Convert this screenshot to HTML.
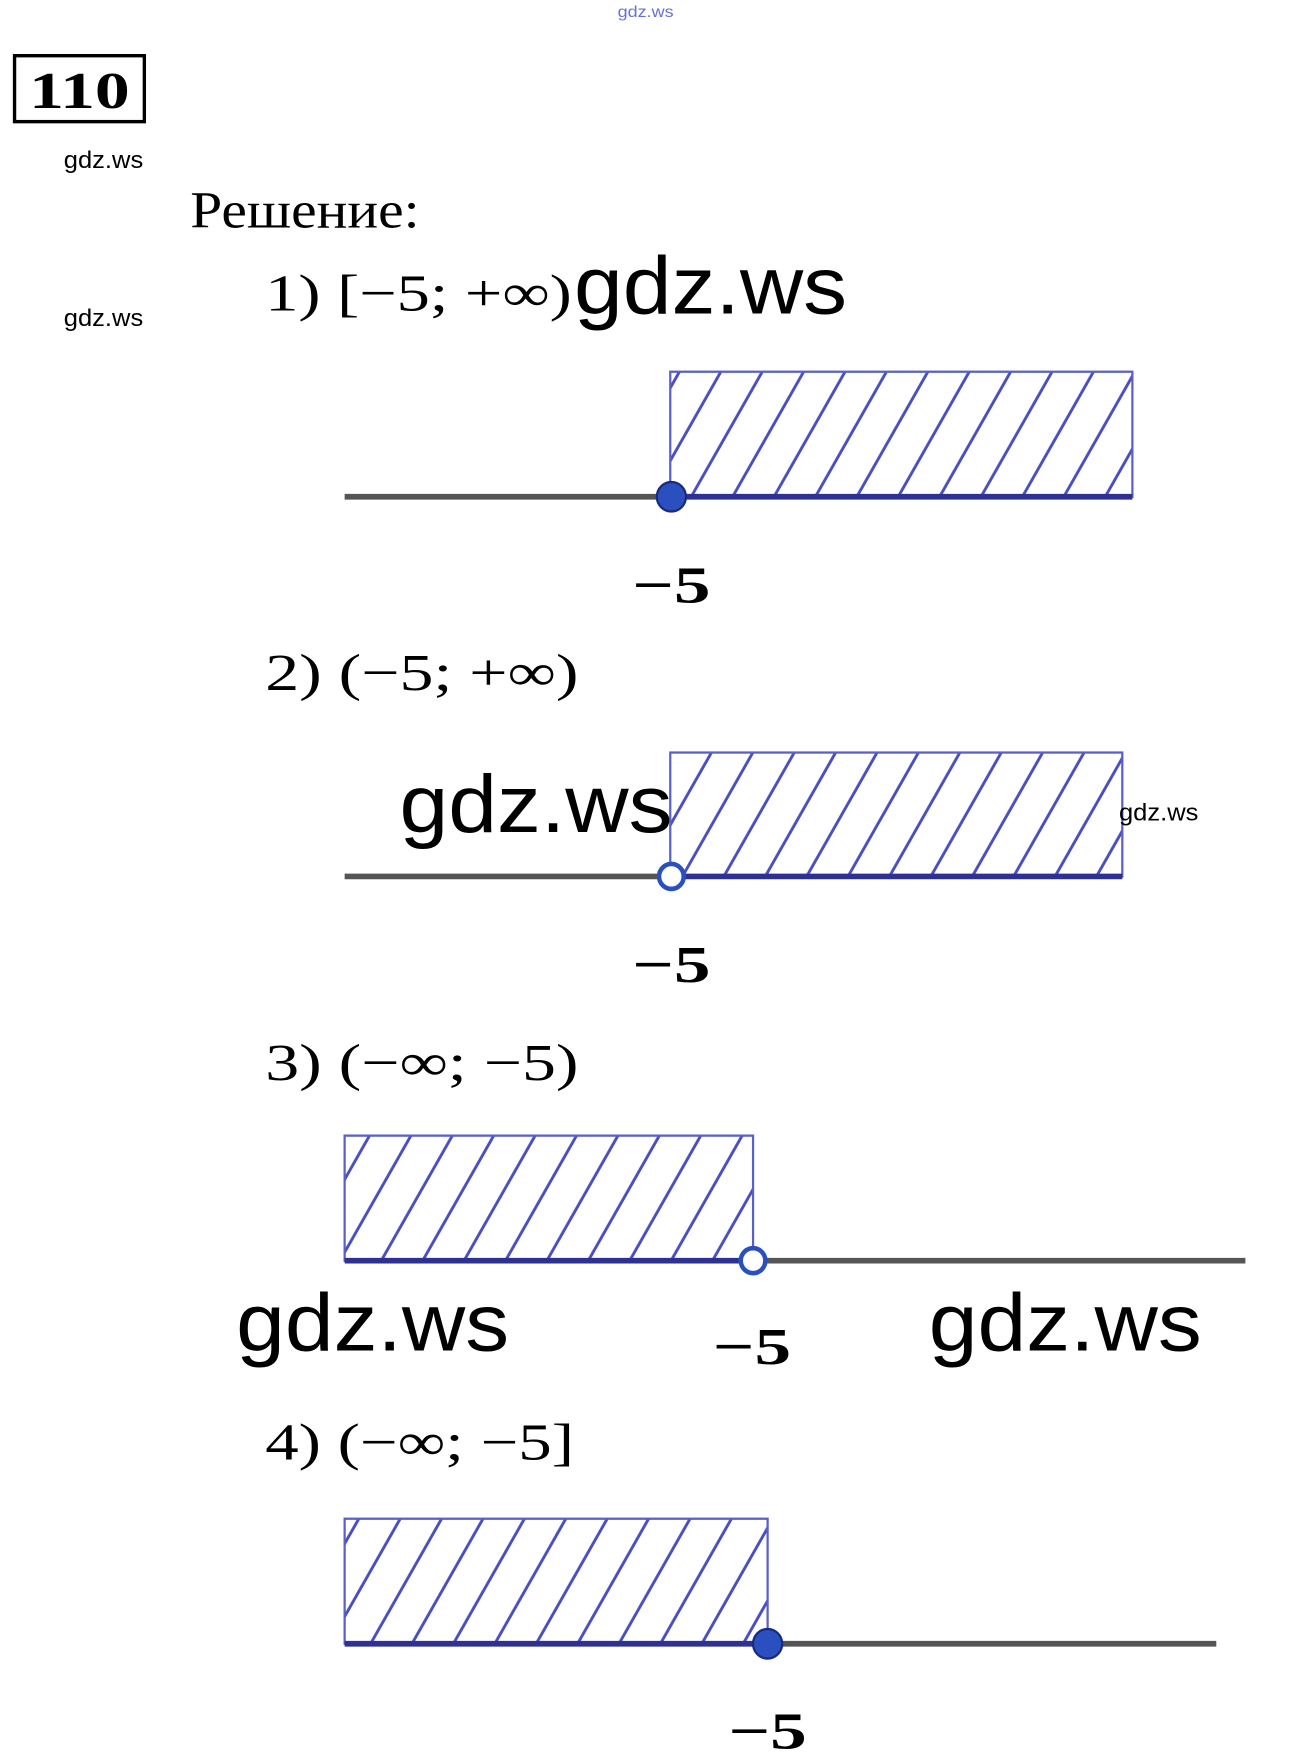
<!DOCTYPE html>
<html><head><meta charset="utf-8"><style>
html,body{margin:0;padding:0;background:#fff;}
svg{display:block;}
.s{font-family:"Liberation Serif",serif;}
.g{font-family:"Liberation Sans",sans-serif;}
</style></head><body>
<svg width="1298" height="1762" viewBox="0 0 1160 1550" preserveAspectRatio="none" xmlns="http://www.w3.org/2000/svg">
<defs>
<pattern id="h" patternUnits="userSpaceOnUse" width="37" height="400" patternTransform="skewX(-30)">
<line x1="19" y1="0" x2="19" y2="400" stroke="#4a4fc0" stroke-width="3"/>
</pattern>
</defs>
<rect width="1160" height="1550" fill="#fff"/>
<text x="552" y="15" class="g" font-size="14" fill="#6670dd" textLength="50" lengthAdjust="spacingAndGlyphs">gdz.ws</text>
<rect x="13" y="49" width="116" height="58" fill="none" stroke="#000" stroke-width="3"/>
<text x="26" y="95" class="s" font-size="46" font-weight="bold" textLength="90" lengthAdjust="spacingAndGlyphs">110</text>
<text x="57" y="148" class="g" font-size="21" textLength="71" lengthAdjust="spacingAndGlyphs">gdz.ws</text>
<text x="57" y="287" class="g" font-size="21" textLength="71" lengthAdjust="spacingAndGlyphs">gdz.ws</text>
<text x="170" y="200" class="s" font-size="46" textLength="205" lengthAdjust="spacingAndGlyphs">Решение:</text>

<text x="237" y="273" class="s" font-size="46" textLength="274" lengthAdjust="spacingAndGlyphs">1)  [−5; +∞)</text>
<text x="513" y="276" class="g" font-size="72" textLength="244" lengthAdjust="spacingAndGlyphs">gdz.ws</text>
<rect x="599" y="327" width="413" height="110" fill="url(#h)" stroke="#5a60c8" stroke-width="2"/>
<line x1="308" y1="437" x2="600" y2="437" stroke="#555" stroke-width="5"/>
<line x1="600" y1="437" x2="1012" y2="437" stroke="#2e3192" stroke-width="5"/>
<circle cx="600" cy="437" r="13" fill="#2a50c0" stroke="#1a2a80" stroke-width="2"/>
<text x="565" y="530" class="s" font-size="46" font-weight="bold" textLength="70" lengthAdjust="spacingAndGlyphs">−5</text>

<text x="237" y="607" class="s" font-size="46" textLength="280" lengthAdjust="spacingAndGlyphs">2)  (−5; +∞)</text>
<rect x="599" y="662" width="404" height="109" fill="url(#h)" stroke="#5a60c8" stroke-width="2"/>
<line x1="308" y1="771" x2="600" y2="771" stroke="#555" stroke-width="5"/>
<line x1="600" y1="771" x2="1003" y2="771" stroke="#2e3192" stroke-width="5"/>
<circle cx="600" cy="771" r="11" fill="#fff" stroke="#2a50c0" stroke-width="4"/>
<text x="357" y="732" class="g" font-size="72" textLength="244" lengthAdjust="spacingAndGlyphs">gdz.ws</text>
<text x="1000" y="722" class="g" font-size="21" textLength="71" lengthAdjust="spacingAndGlyphs">gdz.ws</text>
<text x="565" y="864" class="s" font-size="46" font-weight="bold" textLength="70" lengthAdjust="spacingAndGlyphs">−5</text>

<text x="237" y="950" class="s" font-size="46" textLength="280" lengthAdjust="spacingAndGlyphs">3)  (−∞; −5)</text>
<rect x="308" y="999" width="365" height="110" fill="url(#h)" stroke="#5a60c8" stroke-width="2"/>
<line x1="308" y1="1109" x2="673" y2="1109" stroke="#2e3192" stroke-width="5"/>
<line x1="673" y1="1109" x2="1113" y2="1109" stroke="#555" stroke-width="5"/>
<circle cx="673" cy="1109" r="11" fill="#fff" stroke="#2a50c0" stroke-width="4"/>
<text x="211" y="1188" class="g" font-size="72" textLength="244" lengthAdjust="spacingAndGlyphs">gdz.ws</text>
<text x="830" y="1188" class="g" font-size="72" textLength="244" lengthAdjust="spacingAndGlyphs">gdz.ws</text>
<text x="637" y="1200" class="s" font-size="46" font-weight="bold" textLength="70" lengthAdjust="spacingAndGlyphs">−5</text>

<text x="237" y="1284" class="s" font-size="46" textLength="276" lengthAdjust="spacingAndGlyphs">4)  (−∞; −5]</text>
<rect x="308" y="1336" width="378" height="110" fill="url(#h)" stroke="#5a60c8" stroke-width="2"/>
<line x1="308" y1="1446" x2="686" y2="1446" stroke="#2e3192" stroke-width="5"/>
<line x1="686" y1="1446" x2="1087" y2="1446" stroke="#555" stroke-width="5"/>
<circle cx="686" cy="1446" r="13" fill="#2a50c0" stroke="#1a2a80" stroke-width="2"/>
<text x="651" y="1538" class="s" font-size="46" font-weight="bold" textLength="70" lengthAdjust="spacingAndGlyphs">−5</text>
</svg>
</body></html>
